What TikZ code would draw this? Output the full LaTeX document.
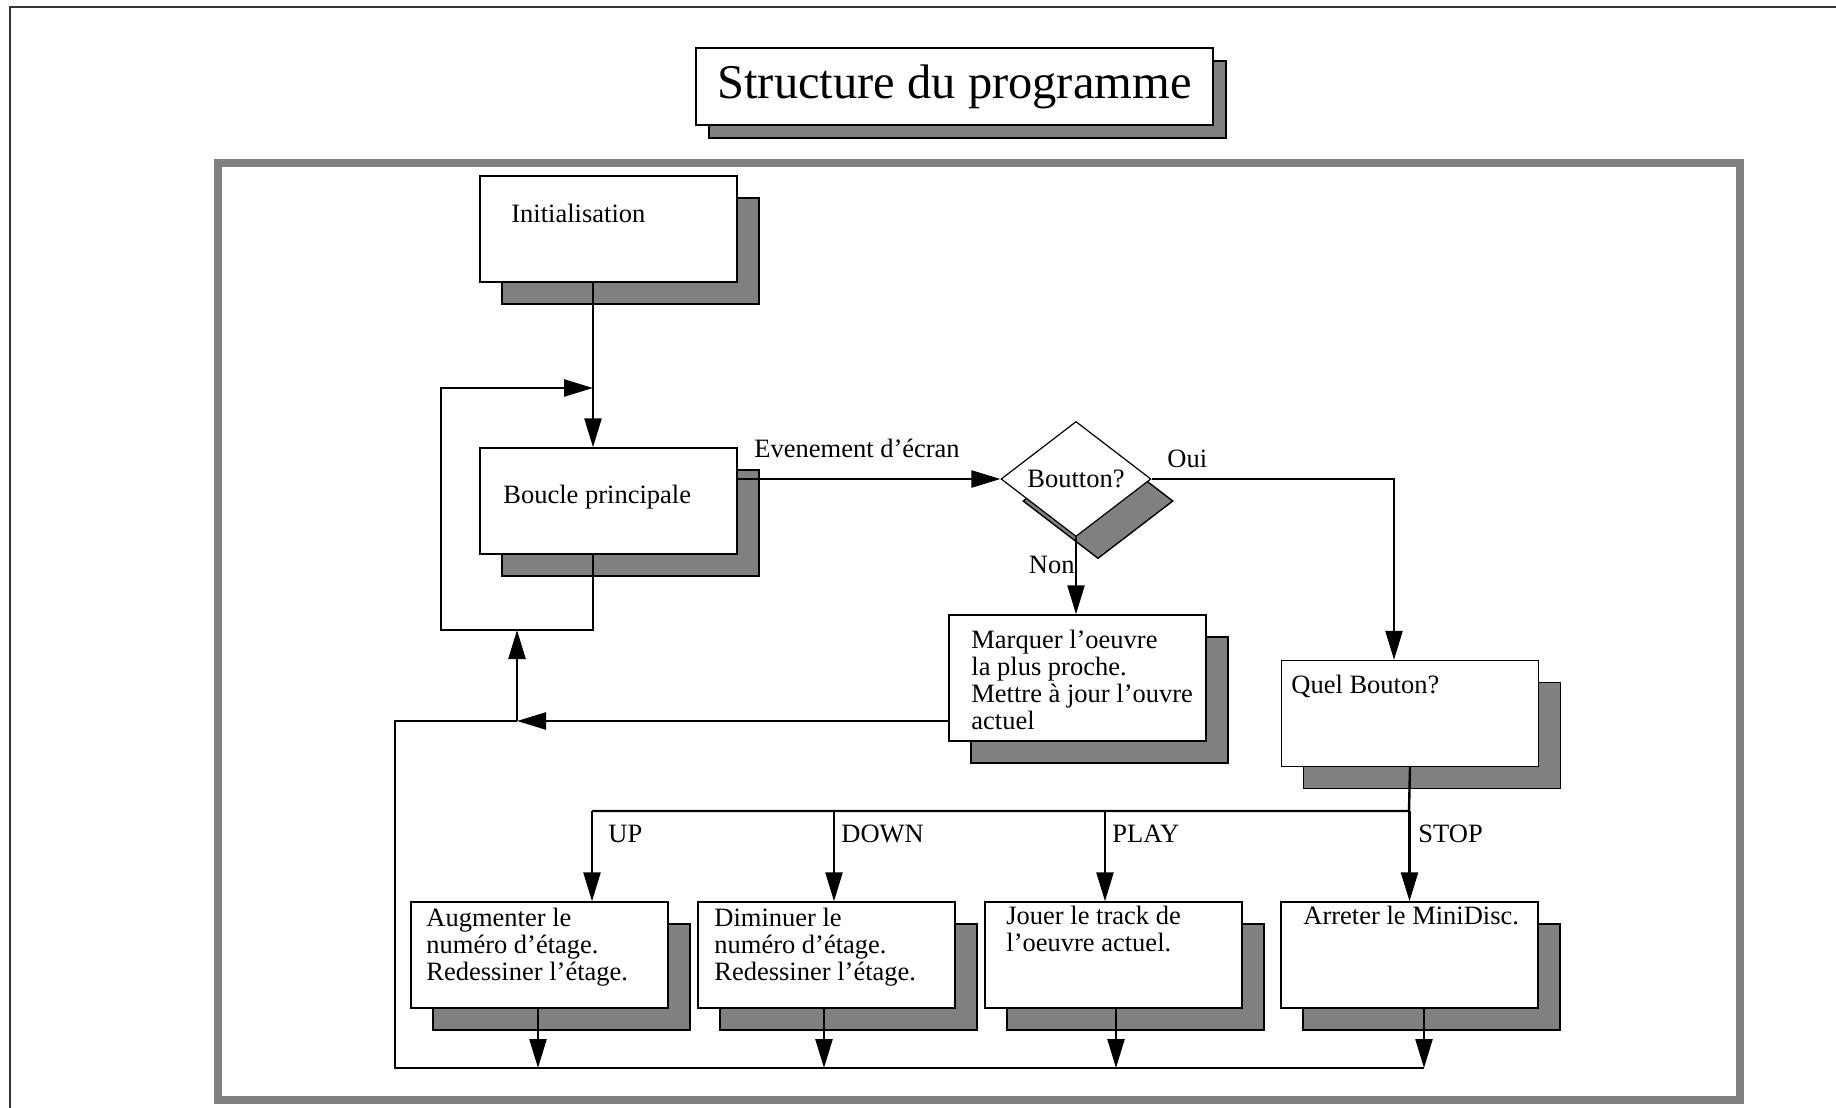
\documentclass[tikz,border=0pt]{standalone}
\usepackage{fontspec}
\setmainfont{Liberation Serif}
\usetikzlibrary{arrows.meta,shapes.geometric,shadows,positioning}

\tikzset{
  ombre/.style={general shadow={fill=black!50, draw=black, line width=0.7pt, shadow xshift=11pt, shadow yshift=-11pt}},
  boite/.style={draw, fill=white, line width=0.7pt, minimum width=128.5pt, minimum height=53pt, inner sep=0pt, ombre},
  losange/.style={diamond, draw, fill=white, line width=0.6pt, minimum width=75pt, minimum height=53pt, inner sep=0pt, ombre, font=\fontsize{13.25pt}{13.5pt}\selectfont},
  texte/.style={anchor=base west, inner sep=0pt, align=left, font=\fontsize{13.25pt}{13.5pt}\selectfont},
  lien/.style={line width=1.2pt},
  fleche/.style={lien, -{Triangle[length=14.5pt,width=8.5pt]}},
}

\begin{document}
\begin{tikzpicture}[x=0.5pt, y=-0.5pt]
    \useasboundingbox (0,0) rectangle (1836,1108);

    % page border
    \draw[line width=0.8pt, black!80] (10,1108) -- (10,7) -- (1836,7);

    % title
    \node[draw, fill=white, line width=0.7pt, minimum width=258.5pt, minimum height=38.5pt,
          general shadow={fill=black!50, draw=black, line width=0.7pt, shadow xshift=6.5pt, shadow yshift=-6.5pt},
          font=\fontsize{24.25pt}{26pt}\selectfont] (titre) at (954.5,86.5) {Structure du programme};

    % gray frame
    \draw[line width=4pt, black!50] (218,163) rectangle (1740,1100);

    % boxes
    \node[boite] (init) at (608.5,229) {};
    \node[boite] (boucle) at (608.5,501) {};
    \node[losange] (bouton) at (1076,479) {Boutton?};
    \node[boite, minimum height=63pt] (marquer) at (1077.5,678) {};
    \node[boite] (quel) at (1410,713.5) {};
    \node[boite] (haut) at (539.5,955) {};
    \node[boite] (bas) at (826.5,955) {};
    \node[boite] (jouer) at (1113.5,955) {};
    \node[boite] (arret) at (1409.5,955) {};

    % box texts (base = last line)
    \node[texte] (tinit) at (511,222) {Initialisation};
    \node[texte] (tboucle) at (503,503) {Boucle principale};
    \node[texte] (tmarquer) at (971,729) {Marquer l'oeuvre\\la plus proche.\\Mettre à jour l'ouvre\\actuel};
    \node[texte] (tquel) at (1291,693) {Quel Bouton?};
    \node[texte] (thaut) at (426,980) {Augmenter le\\numéro d'étage.\\Redessiner l'étage.};
    \node[texte] (tbas) at (714,980) {Diminuer le\\numéro d'étage.\\Redessiner l'étage.};
    \node[texte] (tjouer) at (1006,951) {Jouer le track de\\l'oeuvre actuel.};
    \node[texte] (tarret) at (1303,924) {Arreter le MiniDisc.};

    % labels
    \node[texte] (levt) at (754,457) {Evenement d'écran};
    \node[texte] (loui) at (1167,467) {Oui};
    \node[texte, anchor=base east] (lnon) at (1075,573) {Non};
    \node[texte] (lup) at (608,842) {UP};
    \node[texte] (ldown) at (841,842) {DOWN};
    \node[texte] (lplay) at (1112,842) {PLAY};
    \node[texte] (lstop) at (1418,842) {STOP};

    % corners
    \coordinate (entree) at (593,388);
    \coordinate (boucleSud) at (593,630);
    \coordinate (boucleSO) at (441,630);
    \coordinate (boucleNO) at (441,388);
    \coordinate (retour) at (517,721);
    \coordinate (coinG) at (395,721);
    \coordinate (coinB) at (395,1068);
    \coordinate (collecteur) at (1424,1068);
    \coordinate (distD) at (1409,811);
    \coordinate (distG) at (592,811);

    % main flow
    \draw[fleche] ([xshift=-7.75pt]init.south) -- ([xshift=-7.75pt]boucle.north);
    \draw[fleche] ([xshift=-7.75pt]boucle.south) -- (boucleSud) -- (boucleSO) -- (boucleNO) -- (entree);
    \draw[fleche] ([yshift=11pt]boucle.east) -- (bouton.west);
    \draw[fleche] (bouton.east) -| ([xshift=-8pt]quel.north);
    \draw[fleche] (bouton.south) -- (bouton.south |- marquer.north);

    % return to main loop
    \draw[fleche] ([yshift=-21.5pt]marquer.west) -- (retour);
    \draw[fleche] (retour) -- (retour |- boucleSud);
    \draw[lien] (retour) -- (coinG) -- (coinB) -- (collecteur);

    % button choice
    \draw[lien] (quel.south) -- (distD) -- (distG);
    \foreach \b/\dx in {haut/26.25pt, bas/3.75pt, jouer/-4.25pt, arret/0pt}
        \draw[fleche] ([xshift=\dx]\b.north |- distD) -- ([xshift=\dx]\b.north);
    \foreach \b/\dx in {haut/-0.75pt, bas/-1.25pt, jouer/1.25pt, arret/7.25pt}
        \draw[fleche] ([xshift=\dx]\b.south) -- ([xshift=\dx]\b.south |- coinB);

\end{tikzpicture}
\end{document}
